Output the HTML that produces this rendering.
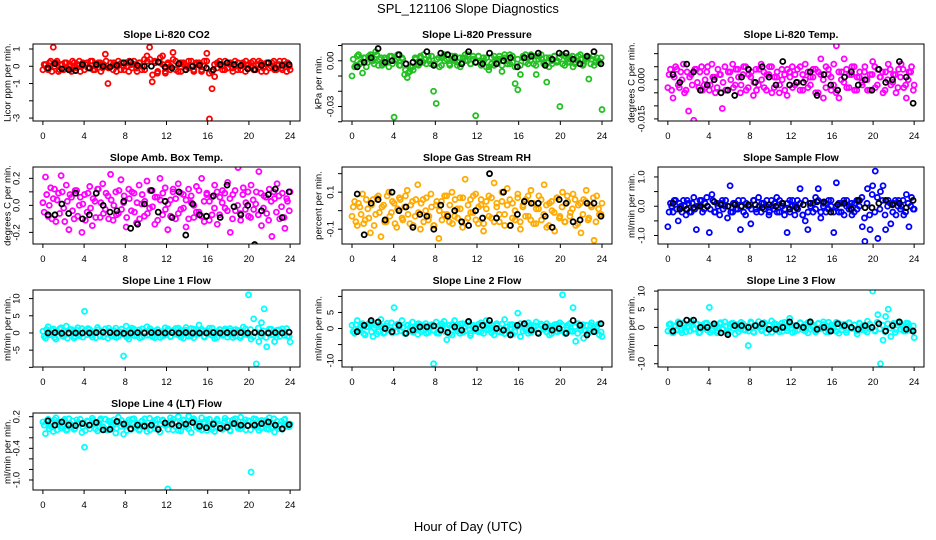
<!DOCTYPE html>
<html><head><meta charset="utf-8"><style>
html,body{margin:0;padding:0;background:#fff}
svg{display:block;font-family:"Liberation Sans",Arial,sans-serif}
</style></head><body>
<svg id="chart" width="936" height="540" viewBox="0 0 936 540">
<rect width="936" height="540" fill="#fff"/>
<text x="468" y="13" font-size="13" text-anchor="middle">SPL_121106  Slope Diagnostics</text>
<text x="468" y="531" font-size="13" text-anchor="middle">Hour of Day (UTC)</text>
</svg>
<script>
// ---- data (hours 0..24) ----
const xTicks = [0,4,8,12,16,20,24];
const co2Vals = [-0.2,0.1,-0.2,0.3,1.1,0.2,-0.3,0.1,-0.2,0.2,0.0,-0.3,0.2,-0.1,0.3,0.0,-0.2,0.2,-0.1,0.3,-0.2,0.1,0.2,-0.1,0.7,-1.0,0.2,-0.2,0.1,0.3,-0.2,0.0,0.2,-0.3,0.1,0.3,-0.1,0.2,-0.2,0.4,0.6,1.1,-0.9,0.3,-0.4,0.2,0.6,-0.3,0.1,-0.2,0.8,0.3,-0.3,0.2,0.1,-0.2,0.3,0.0,-0.3,0.2,0.1,-0.2,0.3,0.75,-3.05,-1.3,-0.6,0.2,0.1,-0.2,0.3,-0.1,0.2,-0.3,0.0,0.2,-0.2,0.1,0.3,-0.1,0.2,-0.2,0.1,0.3,-0.3,0.0,0.2,-0.1,0.2,-0.2,0.1,0.3,-0.2,0.1,0.2,-0.2];
const co2Vals2 = [0.1,-0.1,0.2,-0.3,0.0,0.3,-0.2,0.1,0.2,-0.1,-0.2,0.3,0.0,0.1,-0.3,0.2,0.1,-0.1,0.3,-0.2,0.0,0.2,-0.3,0.1,0.3,-0.1,0.0,0.2,-0.3,0.1,0.2,-0.2,0.0,0.3,-0.1,0.1,-0.3,0.2,0.0,-0.2,0.3,0.4,-0.5,0.2,-0.3,0.5,0.1,-0.4,0.2,0.0,0.4,-0.2,0.1,-0.3,0.2,0.0,-0.1,0.3,-0.2,0.1,0.2,-0.3,0.0,0.3,-0.4,-0.3,0.1,-0.1,0.3,0.0,-0.2,0.2,0.1,-0.1,0.3,-0.2,0.0,0.2,-0.3,0.1,0.0,0.3,-0.2,0.1,0.2,-0.1,-0.3,0.2,0.0,0.3,-0.2,0.1,-0.1,0.3,-0.3,0.0];
const co2Black = [-0.1,0.15,-0.15,-0.2,-0.25,0.1,-0.1,0.1,0.0,-0.05,0.05,0.2,0.25,0.05,0.0,0.0,0.25,-0.05,-0.1,0.15,-0.2,0.0,0.05,-0.1,-0.2,0.1,0.2,0.1,0.05,-0.15,-0.2,0.05,0.2,-0.1,0.05,0.1];
const presVals = [-0.010,-0.004,0.003,-0.002,-0.008,0.002,-0.001,0.004,0.000,0.006,-0.003,0.002,-0.002,0.001,-0.004,0.003,-0.037,0.001,-0.003,0.002,-0.009,-0.011,-0.007,-0.004,0.002,-0.002,0.003,-0.001,0.001,0.003,-0.002,-0.020,-0.028,0.002,-0.003,0.004,0.001,-0.002,0.003,0.000,-0.003,0.002,-0.001,0.004,0.000,-0.002,0.003,-0.036,0.003,-0.001,0.002,-0.004,-0.006,0.002,-0.003,0.001,0.003,-0.007,0.002,-0.002,0.004,-0.001,-0.015,-0.019,-0.009,0.003,-0.001,0.002,0.004,-0.002,-0.009,0.003,0.001,-0.001,-0.014,0.002,-0.002,0.003,0.000,-0.030,-0.002,0.003,-0.001,0.002,-0.004,-0.001,0.003,0.001,-0.002,0.002,-0.012,0.001,-0.003,0.002,-0.001,-0.032];
const presVals2 = [0.001,-0.003,0.004,-0.001,0.002,-0.004,0.003,0.000,-0.002,0.004,0.001,-0.003,0.002,-0.001,0.003,-0.002,0.000,0.004,-0.003,0.001,-0.006,-0.008,-0.004,-0.006,0.001,-0.003,0.002,0.004,-0.002,0.000,0.003,-0.002,0.001,-0.004,0.002,0.000,0.004,-0.003,0.001,0.003,-0.001,-0.004,0.002,0.000,0.004,-0.002,0.001,-0.001,0.003,-0.003,0.000,0.002,-0.004,-0.002,0.003,-0.001,0.001,-0.003,0.004,0.000,-0.002,0.003,-0.004,0.001,-0.003,0.002,0.004,-0.002,0.000,0.003,-0.003,0.001,0.004,-0.002,0.002,-0.004,0.000,0.003,-0.001,0.002,0.004,-0.003,0.001,-0.001,0.003,-0.002,0.000,0.004,-0.003,0.001,0.002,-0.002,0.003,-0.001,0.000,0.002];
const presBlack = [-0.004,-0.001,0.002,0.008,-0.001,0.000,0.004,-0.002,-0.001,-0.001,0.006,-0.003,0.005,0.004,0.002,-0.002,0.006,-0.001,-0.002,0.005,-0.002,0.000,0.002,-0.004,0.002,0.003,0.005,-0.003,0.001,0.005,0.005,0.001,-0.002,0.003,0.006,-0.002];
const tempVals = [-0.003,0.004,-0.007,0.005,-0.002,0.003,0.006,-0.004,-0.012,0.002,-0.0155,0.004,-0.003,0.005,-0.002,0.003,-0.004,0.006,0.001,-0.003,0.002,-0.011,0.005,-0.004,0.003,0.006,-0.002,0.004,-0.005,0.002,0.005,-0.003,0.001,-0.006,0.004,-0.002,0.006,0.003,-0.004,0.002,0.005,-0.003,0.001,-0.005,0.004,0.002,-0.006,0.003,0.005,-0.002,0.004,-0.004,0.002,0.006,-0.003,0.001,0.004,-0.005,0.003,0.008,-0.007,0.005,0.002,-0.004,0.006,0.013,-0.007,0.003,0.008,-0.003,0.002,0.005,-0.004,0.001,0.003,-0.002,0.005,-0.004,0.002,0.007,-0.003,0.004,0.001,-0.005,0.003,0.006,-0.002,0.002,-0.005,0.004,0.006,-0.003,-0.007,0.003,0.005,-0.002];
const tempVals2 = [0.002,-0.004,0.001,0.004,-0.003,0.000,-0.005,0.003,0.001,-0.002,0.004,-0.001,0.003,-0.004,0.000,0.005,-0.002,0.001,-0.005,0.004,0.002,-0.001,-0.004,0.003,0.000,-0.003,0.004,0.001,-0.002,0.005,-0.004,0.002,0.003,-0.001,-0.004,0.004,0.000,-0.003,0.002,0.005,-0.005,0.001,0.003,-0.002,0.000,-0.004,0.004,0.001,-0.003,0.002,-0.001,0.005,-0.004,0.000,0.003,-0.002,0.001,0.004,-0.005,0.002,0.000,-0.003,0.004,0.001,-0.002,-0.005,0.003,0.000,-0.001,0.004,-0.003,0.002,0.005,-0.004,0.001,-0.001,0.003,0.000,-0.004,0.002,0.005,-0.002,0.001,0.003,-0.004,0.000,0.004,-0.001,0.002,-0.003,0.001,0.004,-0.002,0.000,0.003,-0.004];
const tempBlack = [0.002,-0.001,0.006,0.003,-0.004,-0.002,0.000,-0.005,-0.004,-0.006,0.001,0.004,-0.001,0.005,0.001,-0.002,0.007,-0.002,-0.001,-0.001,0.003,-0.006,0.002,-0.002,-0.004,0.001,0.003,-0.002,0.000,-0.004,0.004,-0.001,0.000,0.007,0.001,-0.009];
const ambVals = [0.02,0.21,-0.08,0.13,0.05,-0.12,0.09,0.22,-0.02,0.15,-0.18,0.06,-0.10,0.11,0.00,-0.20,0.08,-0.05,0.14,-0.15,0.03,0.12,-0.09,0.16,-0.03,0.07,0.23,-0.11,0.10,-0.06,0.19,0.02,-0.16,0.12,-0.04,0.09,-0.13,0.15,0.01,-0.08,0.18,-0.02,0.11,-0.14,0.06,0.20,-0.07,0.13,-0.18,0.04,0.10,-0.10,0.16,-0.03,0.08,-0.16,0.12,0.02,-0.09,0.14,-0.05,0.20,-0.12,0.09,0.03,-0.07,0.15,-0.14,0.06,0.11,-0.02,0.17,-0.20,0.08,-0.04,0.28,-0.11,0.13,0.02,-0.08,0.15,-0.03,0.10,0.25,-0.15,0.07,-0.06,0.12,-0.23,0.05,0.16,-0.10,0.09,-0.17,0.03,0.10];
const ambVals2 = [-0.05,0.08,0.00,-0.10,0.12,0.04,-0.06,0.10,-0.12,0.03,0.08,-0.04,0.11,-0.08,0.06,0.01,-0.11,0.09,-0.02,0.05,-0.09,0.12,0.02,-0.06,0.09,-0.10,0.04,0.00,-0.07,0.11,-0.03,0.07,-0.09,0.05,0.10,-0.05,0.02,-0.10,0.08,0.03,-0.06,0.11,-0.01,0.06,-0.11,0.04,0.09,-0.03,0.01,-0.08,0.12,0.05,-0.06,0.09,-0.02,0.04,-0.10,0.07,0.00,-0.05,0.11,-0.08,0.03,0.08,-0.11,0.06,-0.02,0.10,-0.07,0.02,0.09,-0.04,0.05,-0.10,0.11,0.00,-0.06,0.08,-0.03,0.10,-0.09,0.04,0.01,-0.07,0.09,-0.02,0.06,-0.11,0.03,0.10,-0.05,0.07,-0.01,-0.09,0.05,-0.04];
const ambBlack = [-0.07,-0.07,0.01,-0.06,0.09,-0.10,-0.07,0.09,0.00,-0.05,-0.04,0.03,-0.17,-0.14,0.01,0.11,-0.05,0.03,-0.09,0.10,-0.22,0.01,-0.07,-0.08,0.07,-0.09,0.15,-0.01,-0.07,0.00,-0.29,-0.04,0.08,0.12,-0.09,0.10];
const rhVals = [-0.03,0.05,-0.08,0.02,0.09,-0.05,0.01,-0.12,0.06,-0.02,0.08,-0.14,0.03,-0.06,0.10,-0.01,0.04,-0.09,0.07,-0.04,0.02,0.11,-0.07,0.05,-0.03,0.14,-0.10,0.06,0.00,-0.05,0.09,-0.08,0.03,-0.15,0.05,-0.02,0.08,-0.06,0.10,-0.03,0.01,0.07,-0.09,0.17,-0.04,0.06,-0.01,0.09,-0.07,0.03,-0.11,0.05,0.08,-0.04,0.15,0.02,-0.06,0.10,-0.02,0.12,-0.08,0.04,-0.05,0.09,-0.10,0.03,0.06,-0.03,0.11,-0.07,0.01,0.08,-0.05,0.14,-0.09,0.04,0.00,-0.11,0.07,-0.03,0.10,-0.06,0.05,-0.01,0.09,-0.08,0.03,-0.12,0.06,0.11,-0.04,0.02,-0.16,0.08,-0.02,0.04];
const rhVals2 = [0.02,-0.06,0.04,-0.02,-0.07,0.06,-0.04,0.03,-0.08,0.07,-0.01,0.02,-0.06,0.08,-0.03,0.05,-0.07,0.01,0.06,-0.05,0.08,-0.02,0.03,-0.08,0.06,-0.01,0.04,-0.06,0.07,-0.03,0.02,-0.08,0.05,0.00,-0.05,0.08,-0.02,0.03,-0.07,0.06,-0.04,0.01,0.07,-0.06,0.03,-0.01,0.08,-0.05,0.02,0.06,-0.07,0.01,-0.03,0.07,-0.06,0.04,-0.02,0.05,-0.08,0.03,0.06,-0.04,0.00,0.07,-0.06,0.02,-0.03,0.08,-0.05,0.04,-0.07,0.01,0.06,-0.02,0.03,-0.08,0.05,-0.01,0.07,-0.04,0.02,-0.06,0.08,-0.03,0.01,0.06,-0.07,0.04,-0.02,0.05,-0.05,0.03,0.07,-0.06,0.01,-0.02];
const rhBlack = [0.09,-0.13,0.04,0.06,-0.05,0.10,0.00,0.02,-0.09,-0.02,-0.03,-0.10,0.03,-0.03,0.00,-0.06,-0.08,0.00,-0.04,0.20,-0.04,0.10,-0.08,-0.02,0.05,0.04,0.04,-0.03,-0.09,0.06,0.04,-0.06,-0.05,0.04,0.04,-0.03];
const sampVals = [-0.7,0.1,-0.2,0.2,-0.5,0.0,0.2,-0.3,0.1,-0.2,0.3,-0.8,0.0,0.2,-0.1,0.3,-0.9,0.4,-0.2,0.1,-0.3,0.2,0.0,-0.4,0.7,-0.2,0.1,-0.1,-0.8,0.2,-0.3,0.0,-0.6,0.2,-0.1,0.3,-0.2,0.1,0.0,-0.3,0.2,-0.1,0.3,-0.2,0.1,-0.3,-0.9,0.2,0.0,-0.3,0.2,0.6,-0.3,-0.5,-0.8,0.1,-0.2,0.3,0.6,-0.4,0.1,-0.2,0.2,0.0,-0.9,0.8,-0.2,0.1,-0.3,0.2,0.0,-0.3,0.1,-0.1,0.2,-0.7,-1.2,0.6,-0.8,0.7,1.2,-1.1,0.5,0.7,-0.8,0.2,-0.6,0.1,-0.3,0.2,0.0,-0.3,0.4,-0.7,0.3,-0.1];
const sampVals2 = [-0.2,0.0,0.2,-0.1,0.1,-0.2,0.0,0.2,-0.2,0.1,-0.1,0.0,0.2,-0.2,0.1,0.0,-0.1,0.2,-0.2,0.0,0.1,-0.1,0.2,0.0,-0.2,0.1,-0.1,0.2,0.0,-0.2,0.1,0.0,-0.1,0.2,-0.2,0.0,0.1,-0.1,0.2,-0.2,0.0,0.1,-0.2,0.2,0.0,-0.1,0.1,-0.2,0.2,0.0,-0.1,0.1,-0.3,0.2,-0.2,0.0,0.1,-0.1,0.2,-0.2,0.0,0.1,-0.1,0.2,-0.2,0.0,0.1,-0.2,0.2,0.0,-0.1,0.1,-0.2,0.2,0.0,0.3,-0.4,0.1,-0.3,0.4,-0.2,0.3,-0.1,0.2,-0.3,0.0,0.1,-0.2,0.2,0.0,-0.1,0.2,-0.2,0.1,0.0,-0.1];
const sampBlack = [0.1,-0.1,-0.1,-0.05,0.0,0.0,0.15,0.05,0.0,0.05,0.0,0.05,0.05,-0.05,0.05,0.0,0.1,-0.1,-0.05,0.05,0.1,0.15,0.15,-0.2,0.05,0.1,-0.1,0.2,-0.05,-0.05,0.1,0.2,0.05,0.1,-0.05,0.2];
const l1Vals = [0.5,-1.5,1.8,-0.5,1.2,-1.8,0.3,1.5,-1.0,2.0,-0.3,1.0,-1.5,0.8,-0.8,1.3,6.3,-0.5,1.0,-1.2,0.4,1.6,-0.9,0.2,1.2,-1.5,0.6,-0.3,1.4,-1.0,0.3,-6.7,2.0,-1.8,0.5,1.1,-0.7,0.9,-1.2,0.4,1.8,-0.5,0.7,-1.4,1.0,0.2,-0.9,1.5,0.6,-1.1,0.3,1.3,-0.6,0.8,-1.5,1.6,0.1,-0.8,1.1,-0.4,2.3,0.5,-1.2,0.7,-0.3,1.4,-1.6,0.4,0.9,-0.7,1.2,-0.2,0.6,-1.3,1.0,0.3,-0.8,1.7,-0.4,11.1,-1.8,4.1,-9.0,-2.5,3.0,7.0,-4.0,1.1,-0.6,-2.5,0.8,-1.0,1.2,0.4,-0.9,-2.6];
const l1Vals2 = [-1.0,1.0,-0.5,0.8,-1.3,0.4,1.2,-0.8,0.2,-1.5,1.0,0.5,-1.0,1.5,-0.3,-1.2,0.8,1.3,-0.6,0.2,-1.4,1.0,0.6,-1.1,-0.2,1.4,-0.9,0.7,-1.3,0.3,1.1,-0.5,-1.2,0.9,1.4,-0.8,0.2,-1.4,1.2,0.0,-0.7,1.3,-1.1,0.5,0.9,-1.3,0.4,-0.6,1.2,-1.0,0.7,-0.3,1.4,-1.2,0.3,0.8,-0.9,1.3,-1.4,0.5,-0.2,1.1,-1.0,0.6,1.4,-0.7,0.2,-1.3,1.0,-0.4,0.7,-1.2,1.3,0.1,-0.9,0.8,-1.4,0.4,1.2,-0.6,1.0,-1.1,0.3,1.4,-0.8,0.6,-1.3,0.2,1.1,-0.5,-1.2,0.9,0.3,-0.7,1.3,-1.0];
const l1Black = [0.0,0.1,-0.1,0.0,0.0,0.0,0.0,0.1,0.2,0.1,0.0,-0.1,0.0,0.1,0.0,0.1,0.1,0.0,0.1,0.0,0.1,0.0,0.0,0.0,0.1,0.0,0.1,0.0,0.1,0.0,0.1,0.0,0.0,0.1,0.0,0.2];
const l2Vals = [1.0,-1.5,2.5,-0.5,1.5,-2.0,0.5,2.0,-2.5,1.0,-1.0,2.8,-1.5,0.8,-0.5,1.8,6.5,-1.0,0.5,2.5,-1.5,1.0,-0.8,2.0,0.3,-1.8,1.2,-0.5,1.5,-1.2,0.6,-11.0,2.0,-1.5,0.8,2.2,-3.5,1.0,-2.0,2.5,0.5,-1.5,1.5,-0.8,2.0,-2.2,1.0,0.3,-1.0,1.8,-1.5,2.5,-0.5,1.0,-2.0,1.5,0.2,-1.2,2.8,-0.6,1.2,-1.8,0.5,4.8,-2.5,1.0,-0.5,1.8,-1.2,0.6,2.0,-1.5,0.8,-0.3,1.5,-2.0,0.4,1.2,-1.0,1.8,10.5,-1.5,1.0,-0.8,6.5,-4.0,1.5,-0.5,-3.0,1.0,-0.6,1.8,-1.0,0.5,-2.0,-2.5];
const l2Vals2 = [-1.0,1.2,-0.3,0.9,-1.6,0.5,1.5,-1.0,0.2,-1.7,1.1,0.6,-1.2,1.6,-0.4,-1.4,0.8,1.4,-0.7,0.3,-1.6,1.1,0.6,-1.2,-0.2,1.5,-1.0,0.8,-1.5,0.3,1.2,-0.6,-1.4,1.0,1.5,-0.9,0.2,-1.6,1.3,0.0,-0.8,1.4,-1.2,0.5,1.0,-1.5,0.4,-0.7,1.3,-1.1,0.8,-0.3,1.5,-1.3,0.3,0.9,-1.0,1.4,-1.6,0.5,-0.2,1.2,-1.1,0.6,1.5,-0.8,0.2,-1.5,1.1,-0.4,0.8,-1.3,1.4,0.1,-1.0,0.9,-1.6,0.4,1.3,-0.7,1.1,-1.2,0.3,1.5,-0.9,0.6,-1.5,0.2,1.2,-0.6,-1.4,1.0,0.3,-0.8,1.4,-1.1];
const l2Black = [-1.0,1.0,2.5,2.0,0.0,-1.0,1.0,-1.5,-0.5,0.5,0.5,0.8,-0.5,-1.2,0.5,-0.5,2.2,0.0,1.0,2.5,0.0,-0.5,-2.0,1.0,1.5,-0.5,-1.5,0.5,-0.5,0.0,-1.5,2.5,1.0,-2.0,-1.0,1.5];
const l3Vals = [-1.0,1.0,-1.5,0.5,1.5,-0.8,1.2,-1.2,0.3,1.8,-0.5,1.0,-1.5,0.6,-0.3,1.2,5.5,-0.8,0.5,-1.5,1.0,-0.4,1.5,-1.0,0.3,1.2,-1.8,0.6,-0.5,1.0,-0.8,-5.0,1.5,-1.2,0.4,1.6,-0.6,1.0,-1.5,0.5,1.8,-0.3,0.8,-1.2,1.2,0.2,-0.9,2.5,0.6,-1.1,0.3,1.3,-0.6,0.8,-1.5,1.6,0.1,-0.8,1.1,-0.4,1.5,0.5,-1.2,0.7,-0.3,1.4,-1.6,0.4,0.9,-0.7,1.2,-0.2,0.6,-1.8,1.0,0.3,-0.8,1.7,-0.4,10.0,-1.0,3.5,-10.0,-3.5,3.0,5.0,-2.5,1.1,-0.6,1.5,0.8,-1.0,1.2,0.4,-0.9,-2.8];
const l3Vals2 = [0.8,-1.2,0.3,-0.7,1.3,-1.5,0.6,0.0,-1.0,1.4,-0.4,0.9,-1.3,0.2,1.1,-0.8,-1.4,0.7,0.1,-1.1,1.3,-0.5,0.4,-1.5,1.0,-0.2,0.8,-1.2,1.4,-0.6,0.3,-1.0,1.2,-1.4,0.6,0.0,-0.9,1.3,-0.3,0.7,-1.3,1.1,-0.6,0.4,-1.1,1.4,-0.2,0.9,-1.4,0.5,-0.7,1.2,0.1,-1.0,1.3,-0.4,0.6,-1.3,1.0,-0.1,0.8,-1.2,1.4,-0.5,0.3,-1.1,1.1,-0.7,0.2,-1.4,1.3,-0.3,0.7,-1.0,1.2,-0.6,0.4,-1.3,0.9,0.0,-0.8,1.4,-0.4,0.6,-1.2,1.0,-0.2,0.8,-1.4,1.3,-0.5,0.2,-1.0,1.1,-0.6,0.4];
const l3Black = [-1.0,1.0,2.0,2.0,0.0,0.0,1.0,-1.5,-2.0,0.5,0.5,0.0,0.5,1.0,-0.5,-0.5,0.0,1.5,0.5,0.0,1.5,-0.5,0.0,-1.0,1.0,0.5,0.0,-0.5,0.5,0.0,1.0,-1.0,0.5,1.5,-0.5,-1.0];
const l4Vals = [0.10,-0.12,0.15,0.02,-0.08,0.18,0.05,-0.02,0.12,-0.06,0.16,0.00,-0.04,0.14,0.08,-0.10,-0.38,0.12,-0.03,0.17,0.06,-0.07,0.13,0.01,0.15,-0.05,0.10,0.04,-0.11,0.19,0.02,-0.13,0.07,0.14,-0.04,0.16,0.00,-0.06,0.11,0.05,-0.08,0.17,0.03,-0.02,0.15,-0.09,0.12,0.06,-1.17,0.18,-0.05,0.10,0.20,-0.07,0.14,0.01,0.21,-0.10,0.12,0.04,-0.03,0.18,0.07,-0.06,0.15,0.00,-0.08,0.13,0.05,-0.04,0.17,0.02,-0.07,0.14,0.09,-0.02,0.19,0.03,-0.05,0.12,-0.85,0.16,0.00,-0.06,0.13,0.07,-0.03,0.18,0.01,-0.09,0.11,0.05,-0.04,0.15,0.02,0.06];
const l4Vals2 = [0.04,0.12,-0.03,0.08,0.14,-0.05,0.10,0.02,0.15,-0.04,0.07,0.12,-0.02,0.09,0.15,0.01,-0.06,0.11,0.05,0.13,-0.03,0.08,0.16,0.00,-0.05,0.12,0.06,0.14,-0.02,0.09,0.13,0.03,-0.06,0.10,0.15,0.00,0.07,-0.04,0.12,0.16,0.02,-0.05,0.09,0.13,-0.01,0.06,0.14,0.03,-0.04,0.11,0.15,0.01,-0.06,0.08,0.13,0.04,-0.03,0.12,0.16,0.00,0.07,-0.05,0.10,0.14,0.02,-0.04,0.09,0.15,0.03,-0.02,0.11,0.13,-0.06,0.06,0.16,0.01,-0.03,0.10,0.14,0.04,-0.05,0.08,0.15,0.02,-0.02,0.12,0.13,-0.04,0.07,0.16,0.00,-0.03,0.11,0.14,0.05,0.01];
const l4Black = [0.12,0.04,0.10,0.04,0.03,0.07,0.04,0.09,-0.05,-0.04,0.11,0.06,-0.03,0.04,0.02,0.04,-0.04,0.08,0.06,0.03,0.06,0.09,0.02,-0.01,0.06,-0.02,0.00,0.07,0.04,0.03,0.04,0.07,0.10,0.04,-0.03,0.05];

const panels = [
 {id:'co2', title:'Slope Li-820 CO2', ylab:'Licor ppm per min.', col:0,row:0, y0:-3.17,y1:1.29, ticks:[1,0,-1,-2,-3], labels:{'1':'1','0':'0','-1':'-1','-3':'-3'}, color:'#ff0000', vals:co2Vals, vals2:co2Vals2, blk:co2Black},
 {id:'pressure', title:'Slope Li-820 Pressure', ylab:'kPa per min.', col:1,row:0, y0:-0.0395,y1:0.011, ticks:[0.01,0,-0.01,-0.02,-0.03,-0.04], labels:{'0':'0.00','-0.03':'-0.03'}, color:'#22c022', vals:presVals, vals2:presVals2, blk:presBlack},
 {id:'temp', title:'Slope Li-820 Temp.', ylab:'degrees C per min.', col:2,row:0, y0:-0.0158,y1:0.0137, ticks:[0.01,0.005,0,-0.005,-0.01,-0.015], labels:{'0':'0.000','-0.015':'-0.015'}, color:'#ff00ff', vals:tempVals, vals2:tempVals2, blk:tempBlack},
 {id:'amb-box', title:'Slope Amb. Box Temp.', ylab:'degrees C per min.', col:0,row:1, y0:-0.286,y1:0.284, ticks:[0.2,0.1,0,-0.1,-0.2], labels:{'0.2':'0.2','0':'0.0','-0.2':'-0.2'}, color:'#ff00ff', vals:ambVals, vals2:ambVals2, blk:ambBlack},
 {id:'rh', title:'Slope Gas Stream RH', ylab:'percent per min.', col:1,row:1, y0:-0.18,y1:0.236, ticks:[0.2,0.1,0,-0.1], labels:{'0.1':'0.1','-0.1':'-0.1'}, color:'#ffaa00', vals:rhVals, vals2:rhVals2, blk:rhBlack},
 {id:'sample-flow', title:'Slope Sample Flow', ylab:'ml/min per min.', col:2,row:1, y0:-1.29,y1:1.34, ticks:[1,0.5,0,-0.5,-1], labels:{'1':'1.0','0':'0.0','-1':'-1.0'}, color:'#0000ff', vals:sampVals, vals2:sampVals2, blk:sampBlack},
 {id:'line1', title:'Slope Line 1 Flow', ylab:'ml/min per min.', col:0,row:2, y0:-9.9,y1:12.5, ticks:[10,5,0,-5,-10], labels:{'10':'10','5':'5','0':'0','-5':'-5'}, color:'#00ffff', vals:l1Vals, vals2:l1Vals2, blk:l1Black},
 {id:'line2', title:'Slope Line 2 Flow', ylab:'ml/min per min.', col:1,row:2, y0:-12,y1:12, ticks:[10,5,0,-5,-10], labels:{'5':'5','0':'0','-10':'-10'}, color:'#00ffff', vals:l2Vals, vals2:l2Vals2, blk:l2Black},
 {id:'line3', title:'Slope Line 3 Flow', ylab:'ml/min per min.', col:2,row:2, y0:-10.9,y1:10.3, ticks:[10,5,0,-5,-10], labels:{'10':'10','5':'5','0':'0','-10':'-10'}, color:'#00ffff', vals:l3Vals, vals2:l3Vals2, blk:l3Black},
 {id:'line4', title:'Slope Line 4 (LT) Flow', ylab:'ml/min per min.', col:0,row:3, y0:-1.19,y1:0.27, ticks:[0.2,0,-0.2,-0.4,-0.6,-0.8,-1.0], labels:{'0.2':'0.2','-0.4':'-0.4','-1':'-1.0'}, color:'#00ffff', vals:l4Vals, vals2:l4Vals2, blk:l4Black}
];

const NS='http://www.w3.org/2000/svg';
const svg=document.getElementById('chart');
const colL=[33,342,658], colR=[300,612,924], tickLabX=[17,331,642], ylabX=[8,319,632];
const rowT=[44,167,290,413], PH=77;
function mk(tag,attrs,parent){const e=document.createElementNS(NS,tag);for(const k in attrs)e.setAttribute(k,attrs[k]);parent.appendChild(e);return e;}

panels.forEach(p=>{
  const L=colL[p.col],R=colR[p.col],T=rowT[p.row],B=T+PH;
  const g=mk('g',{},svg);
  
  
  const sx=h=>L+(h+0.96)/25.92*(R-L);
  const sy=v=>B-(v-p.y0)/(p.y1-p.y0)*(B-T);
  const t=mk('text',{x:(L+R)/2,y:T-6,'font-size':10.5,'font-weight':'bold','text-anchor':'middle'},g);
  t.textContent=p.title;
  
  
  const yl=mk('text',{x:ylabX[p.col],y:(T+B)/2,'font-size':9.5,'text-anchor':'middle',transform:`rotate(-90 ${ylabX[p.col]} ${(T+B)/2})`,'dominant-baseline':'middle'},g);
  yl.textContent=p.ylab;
  
  
  const cid='clip-'+p.id;
  const cp=mk('clipPath',{id:cid},g); mk('rect',{x:L,y:T,width:R-L,height:PH},cp);
  const pg=mk('g',{'clip-path':`url(#${cid})`},g);
  const n2=p.vals2.length;
  p.vals2.forEach((v,i)=>{
    const h=0.12+i*23.8/(n2-1);
    const c=mk('circle',{cx:sx(h),cy:sy(v),r:2.5,fill:'none',stroke:p.color,'stroke-width':1.8},pg);
    
    
  });
  const n=p.vals.length;
  p.vals.forEach((v,i)=>{
    const h=i*24/(n-1);
    const c=mk('circle',{cx:sx(h),cy:sy(v),r:2.5,fill:'none',stroke:p.color,'stroke-width':1.8},pg);
    
    
  });
  const m=p.blk.length;
  p.blk.forEach((v,i)=>{
    const h=0.5+i*23.4/(m-1);
    const c=mk('circle',{cx:sx(h),cy:sy(v),r:2.5,fill:'none',stroke:'#000','stroke-width':1.8},pg);
    
    
  });
  const box=mk('rect',{x:L,y:T,width:R-L,height:PH,fill:'none',stroke:'#000','stroke-width':1},g);
  
  
  p.ticks.forEach(tv=>{
    const y=sy(tv);
    mk('line',{x1:L-4,x2:L,y1:y,y2:y,stroke:'#000'},g);
    const key=String(tv);
    if(p.labels[key]!==undefined){
      const tl=mk('text',{x:tickLabX[p.col],y:y,'font-size':9.5,'text-anchor':'middle','dominant-baseline':'middle',transform:`rotate(-90 ${tickLabX[p.col]} ${y})`},g);
      tl.textContent=p.labels[key];
      
      
    }
  });
  xTicks.forEach(h=>{
    const x=sx(h);
    mk('line',{x1:x,x2:x,y1:B,y2:B+4,stroke:'#000'},g);
    const tl=mk('text',{x:x,y:B+18,'font-size':9.5,'text-anchor':'middle'},g);
    tl.textContent=String(h);
    
    
  });
});
</script>
</body></html>
